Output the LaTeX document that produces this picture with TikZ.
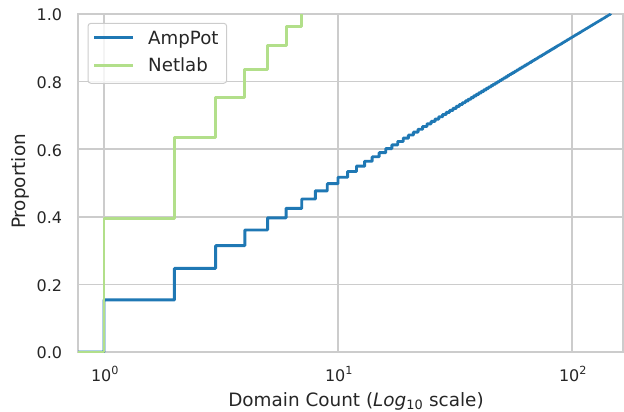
\documentclass[tikz,border=0pt]{standalone}
\usepackage{fontspec}
\setmainfont{DejaVu Sans}
\definecolor{ampblue}{HTML}{1F78B4}
\definecolor{netgreen}{HTML}{B2DF8A}
\definecolor{gridgray}{HTML}{CCCCCC}
\definecolor{textgray}{HTML}{262626}
\tikzset{
  gridline/.style={draw=gridgray, line width=1.4pt},
  spine/.style={draw=gridgray, line width=1.4pt},
  ampline/.style={draw=ampblue, line width=2.9pt, line join=round},
  netline/.style={draw=netgreen, line width=2.9pt, line join=round},
  ticklabel/.style={text=textgray, inner sep=0pt, font=\fontsize{16}{19}\selectfont},
  axislabel/.style={text=textgray, inner sep=0pt, font=\fontsize{18.4}{21}\selectfont},
  legendtext/.style={text=textgray, inner sep=0pt, anchor=base west, font=\fontsize{18.2}{21}\selectfont},
  legendbox/.style={draw=gridgray, line width=1pt, fill=white, fill opacity=0.8, rounded corners=3pt}
}
\begin{document}
\begin{tikzpicture}[x=1pt,y=-1pt]
\useasboundingbox (0,0) rectangle (624,412);
% grid
\foreach \p in {0.2,0.4,0.6,0.8} {
  \draw[gridline] (78,{352-338*\p}) -- (623,{352-338*\p});
}
\foreach \e in {0,1,2} {
  \draw[gridline] ({104+234*\e},14) -- ({104+234*\e},352);
}
% spines
\draw[spine] (78,14) rectangle (623,352);
% y tick labels
\foreach \p/\t in {0/0.0,0.2/0.2,0.4/0.4,0.6/0.6,0.8/0.8,1/1.0} {
  \node[ticklabel, anchor=east] (yt\t) at (62.3,{352-338*\p+1}) {\t};
}
% x tick labels
\foreach \e in {0,1,2} {
  \node[ticklabel, anchor=base] (xt\e) at ({104+234*\e+1},381) {10\textsuperscript{\e}};
}
% axis labels
\node[axislabel, anchor=base] (xlabel) at (356,406) {Domain Count ({\itshape Log}\textsubscript{10} scale)};
\node[axislabel, anchor=base, rotate=90] (ylabel) at (25.5,181.5) {Proportion};
% data
\begin{scope}
\clip (78,14) rectangle (623,352);
\draw[ampline] (78,352) -- (104,352) -- (104,{352-338*0.154})
  -- ({104+234*log10(2)},{352-338*0.154}) -- ({104+234*log10(2)},{352-338*0.2476})
  -- ({104+234*log10(3)},{352-338*0.2476}) -- ({104+234*log10(3)},{352-338*0.3146})
  -- ({104+234*log10(4)},{352-338*0.3146}) -- ({104+234*log10(4)},{352-338*0.361})
  -- ({104+234*log10(5)},{352-338*0.361}) -- ({104+234*log10(5)},{352-338*0.397})
  -- ({104+234*log10(6)},{352-338*0.397}) -- ({104+234*log10(6)},{352-338*0.425})
  \foreach \n in {7,...,146} {
    -- ({104+234*log10(\n)},{352-338*(0.102+0.415*log10(\n-1))})
    -- ({104+234*log10(\n)},{352-338*(0.102+0.415*log10(\n))})
  };
\draw[netline] (78,352) -- (104,352) -- (104,{352-338*0.3955})
  -- ({104+234*log10(2)},{352-338*0.3955}) -- ({104+234*log10(2)},{352-338*0.634})
  -- ({104+234*log10(3)},{352-338*0.634}) -- ({104+234*log10(3)},{352-338*0.7535})
  -- ({104+234*log10(4)},{352-338*0.7535}) -- ({104+234*log10(4)},{352-338*0.837})
  -- ({104+234*log10(5)},{352-338*0.837}) -- ({104+234*log10(5)},{352-338*0.908})
  -- ({104+234*log10(6)},{352-338*0.908}) -- ({104+234*log10(6)},{352-338*0.9625})
  -- ({104+234*log10(7)},{352-338*0.9625}) -- ({104+234*log10(7)},{352-338*1.0});
\end{scope}
% legend
\draw[legendbox] (88,23.3) rectangle (226.7,83.3);
\draw[ampline] (94,37.7) -- (133,37.7);
\draw[netline] (94,65.3) -- (133,65.3);
\node[legendtext] (legamp) at (148,45) {AmpPot};
\node[legendtext] (legnet) at (148,71.7) {Netlab};
\end{tikzpicture}
\end{document}
